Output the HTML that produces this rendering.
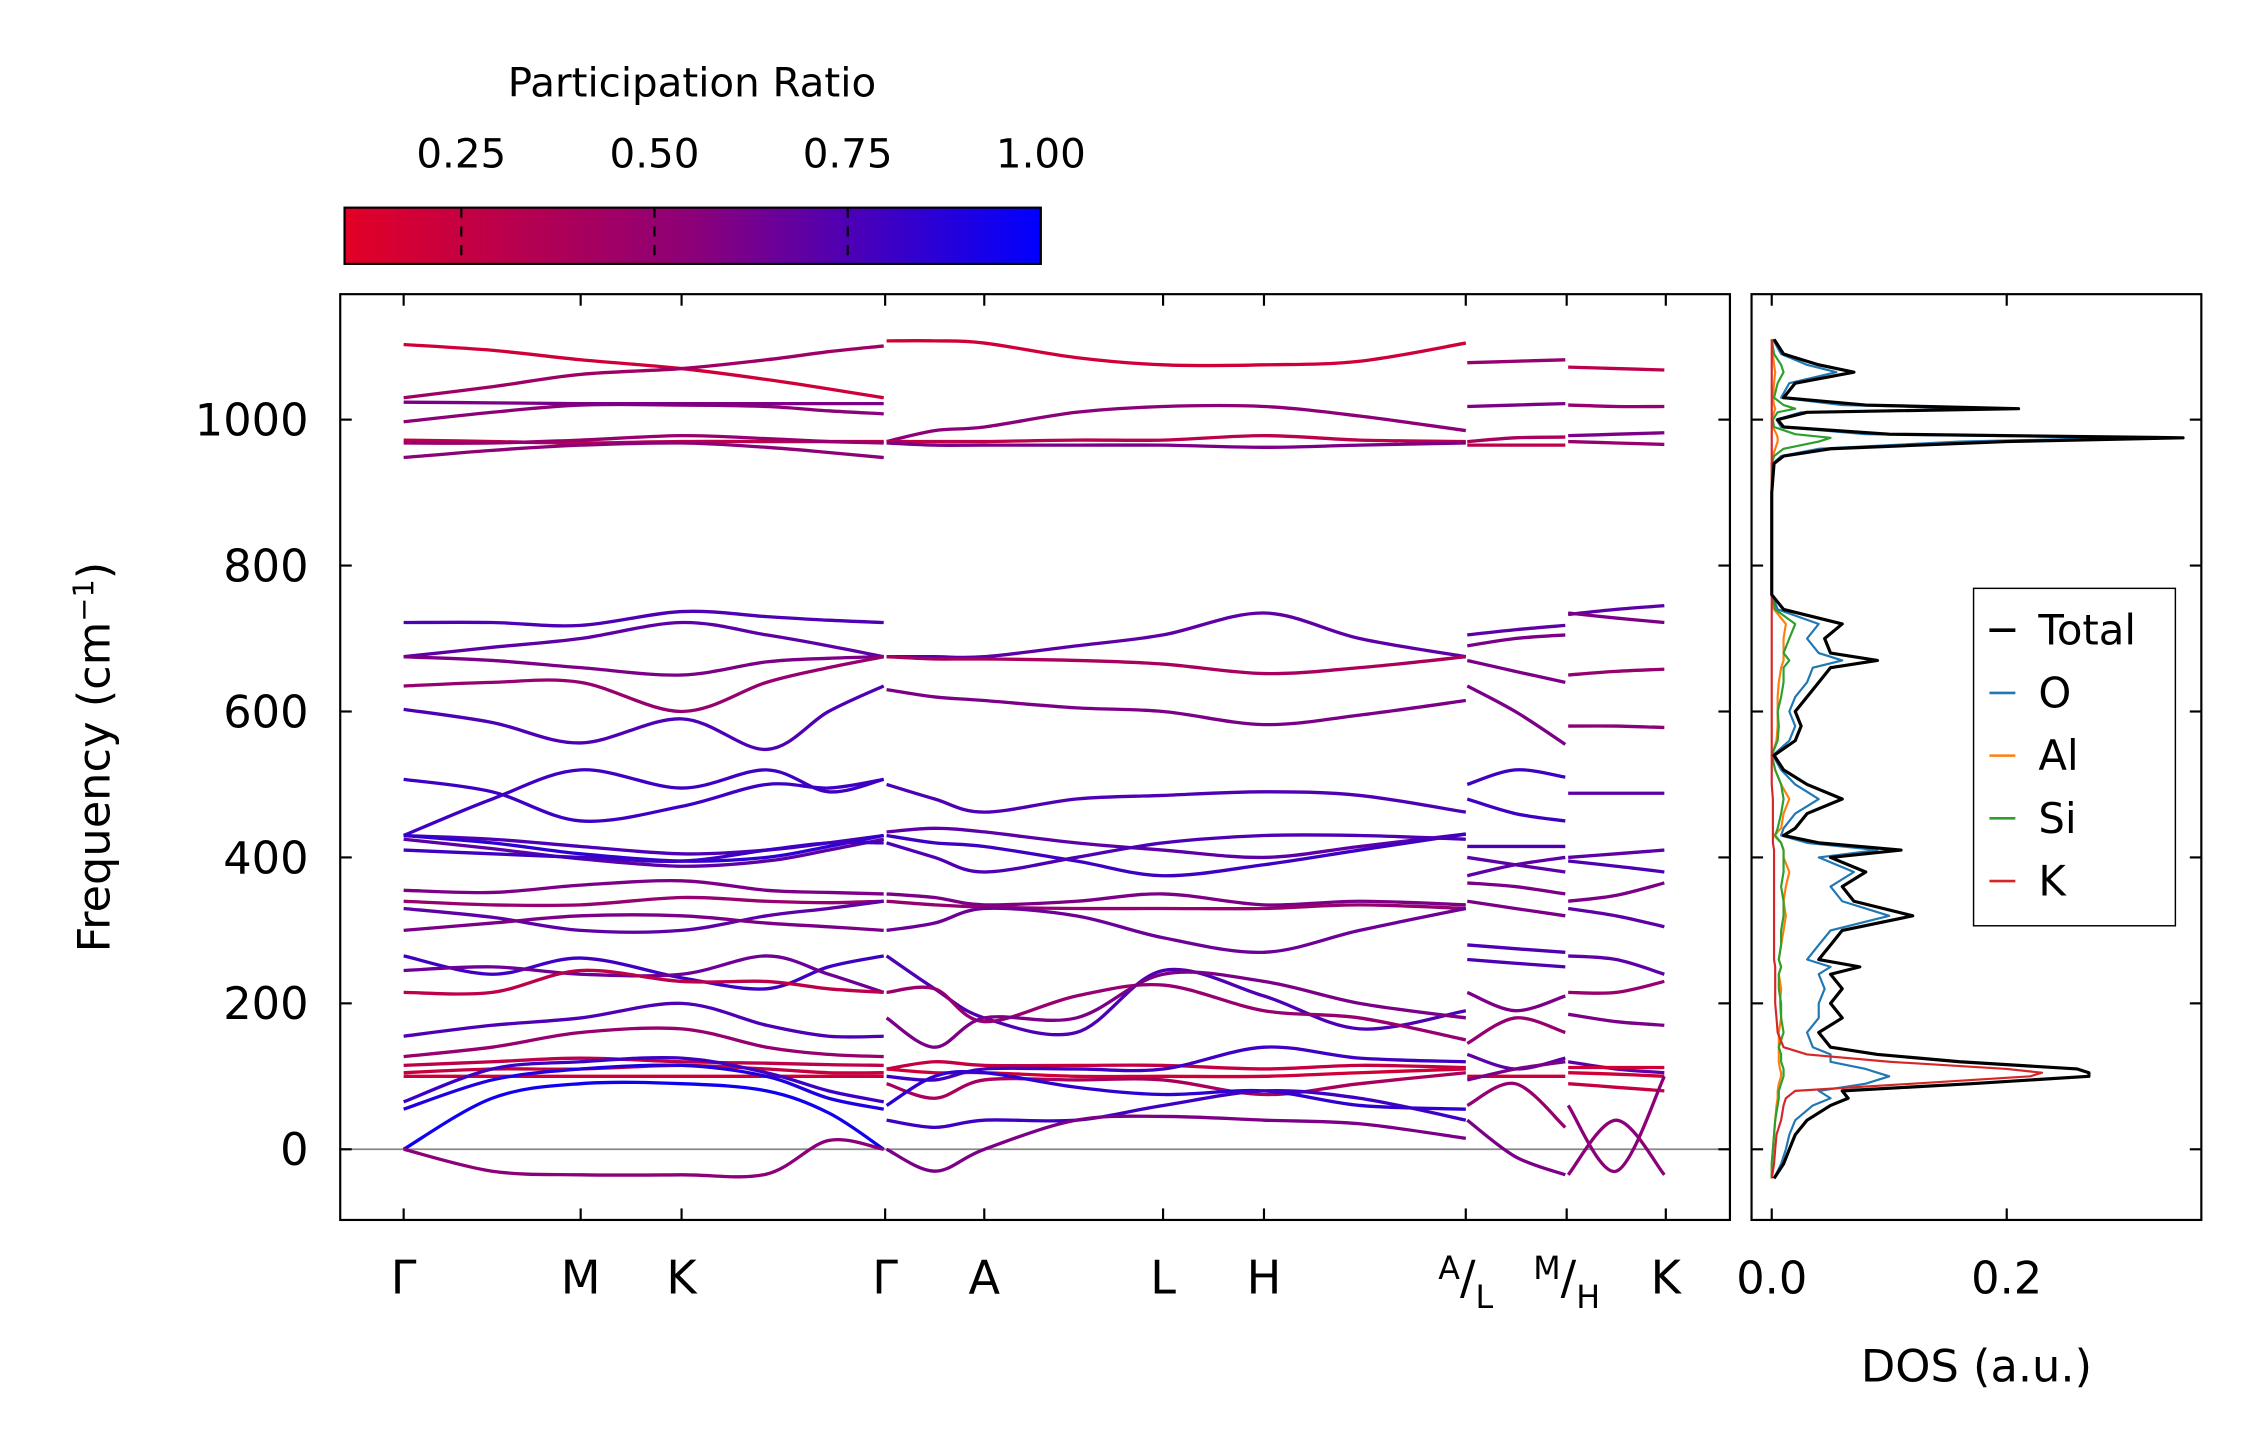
<!DOCTYPE html>
<html><head><meta charset="utf-8"><style>
html,body{margin:0;padding:0;background:#fff}
svg{display:block}
text{font-family:"DejaVu Sans","Liberation Sans",sans-serif;fill:#000}
</style></head><body>
<svg id="chart" width="2259" height="1455" viewBox="0 0 1567 1009" preserveAspectRatio="none" xmlns="http://www.w3.org/2000/svg">
<defs>
<linearGradient id="cmap" x1="0" x2="1" y1="0" y2="0">
<stop offset="0" stop-color="rgb(226,0,38)"/>
<stop offset="0.5" stop-color="rgb(140,0,120)"/>
<stop offset="1" stop-color="rgb(0,0,255)"/>
</linearGradient>
<clipPath id="mainclip"><rect x="236" y="204" width="964" height="642"/></clipPath>
<clipPath id="dosclip"><rect x="1215" y="204" width="312" height="642"/></clipPath>
</defs>
<g id="colorbar">
<text x="480" y="67" font-size="28" text-anchor="middle">Participation Ratio</text>
<rect x="239" y="144" width="483" height="39" fill="url(#cmap)" stroke="#000" stroke-width="1.5"/>
</g>
<g id="main">
<g id="bands" clip-path="url(#mainclip)"></g>
<rect x="236" y="204" width="964" height="642" fill="none" stroke="#000" stroke-width="1.5"/>
<g id="mainTicks"></g>
<text transform="translate(76,525) rotate(-90)" font-size="31" text-anchor="middle">Frequency (cm<tspan dy="-11" font-size="20">−1</tspan><tspan dy="11">)</tspan></text>
</g>
<g id="dos">
<g id="dosCurves" clip-path="url(#dosclip)"></g>
<rect x="1215" y="204" width="312" height="642" fill="none" stroke="#000" stroke-width="1.5"/>
<g id="dosTicks"></g>
<text x="1371" y="958" font-size="31" text-anchor="middle">DOS (a.u.)</text>
<g id="legend">
<rect x="1369" y="408" width="140" height="234" fill="#fff" stroke="#000" stroke-width="1"/>
</g>
</g>
</svg>
<script>
// ---- DATA ----
const kLabels = ["Γ","M","K","Γ","A","L","H","A/L","M/H","K"];
const kTicks = [0,1.0,1.57,2.72,3.28,4.29,4.86,6.0,6.57,7.13];
const yTicks = [0,200,400,600,800,1000];
const cbTicks = [0.25,0.50,0.75,1.00];

const seg1K = [0,0.5,1.0,1.57,2.05,2.4,2.72];
const seg1Bands = [
[1103,1095,1082,1070,1055,1042,1030],[1030,1045,1062,1070,1082,1093,1101],
[997,1010,1020,1020,1018,1012,1008],[1024,1023,1022,1022,1022,1022,1022],
[972,970,968,970,970,970,970],[968,968,972,978,974,970,968],
[948,958,965,968,962,955,948],[722,722,718,737,730,725,722],
[675,688,700,722,705,690,675],[675,670,660,650,668,673,675],
[635,640,640,600,640,660,675],[603,585,557,590,548,600,635],
[507,490,450,470,500,495,507],[430,480,520,495,520,490,507],
[430,425,415,405,410,420,430],[430,420,405,395,400,415,430],
[425,412,398,388,395,410,425],[410,405,400,395,410,420,420],
[355,352,362,368,355,352,350],[340,335,335,345,340,338,340],
[330,318,300,300,320,330,340],[300,310,320,320,310,305,300],
[265,240,262,235,220,250,265],[245,250,240,240,265,240,215],
[215,215,245,230,230,220,215],[155,170,180,200,170,155,155],
[127,140,160,165,140,130,127],[115,120,125,120,118,116,115],
[105,110,110,115,110,105,105],[100,100,100,100,100,100,100],
[65,110,120,125,105,80,65],[55,95,110,115,100,70,55],
[0,70,90,90,80,50,0],[0,-30,-35,-35,-34,12,0]];
const seg1PR = [.2,.45,.55,.6,.3,.5,.55,.75,.7,.6,.5,.75,.8,.8,.75,.85,.7,.8,.6,.5,.7,.6,.8,.65,.3,.75,.5,.3,.25,.2,.8,.9,.95,.55];

const seg2K = [2.72,3.0,3.28,3.8,4.29,4.86,5.4,6.0];
const seg2Bands = [
[1108,1108,1105,1085,1075,1075,1080,1105],[970,985,990,1010,1018,1018,1005,985],
[970,970,970,972,972,978,972,970],[968,965,965,965,965,962,965,968],
[675,675,675,690,705,735,700,675],[675,672,672,670,665,652,660,675],
[630,620,615,605,600,582,595,615],[500,480,462,480,485,490,485,462],
[435,440,435,420,410,400,415,432],[430,420,415,395,375,390,410,432],
[420,400,380,400,420,430,430,425],[350,345,335,340,350,335,340,335],
[340,335,332,330,330,330,335,330],[300,310,330,320,290,270,300,330],
[265,220,180,160,245,210,165,190],[215,220,175,210,225,190,180,150],
[180,140,180,180,240,230,200,180],[110,120,115,115,115,110,115,112],
[110,105,105,100,100,100,105,110],[100,95,110,110,110,140,125,120],
[90,70,95,95,95,75,90,105],[60,100,105,85,75,80,60,55],
[40,30,40,40,60,80,70,40],[0,-30,0,40,45,40,35,15]];
const seg2PR = [.2,.55,.3,.6,.7,.4,.6,.75,.7,.8,.75,.6,.5,.65,.75,.5,.6,.25,.2,.8,.4,.85,.8,.6];

const seg3K = [6.0,6.28,6.57];
const seg3Bands = [
[1078,1080,1082],[1018,1020,1022],[970,975,976],[965,965,965],[705,712,718],
[690,700,705],[670,655,640],[635,600,555],[500,520,510],[480,460,450],
[415,415,415],[400,390,380],[375,390,400],[365,360,350],[340,330,320],
[280,275,270],[260,255,250],[215,190,210],[145,180,160],[130,110,125],
[100,100,100],[95,110,120],[60,90,30],[40,-10,-35]];
const seg3PR = [.5,.6,.4,.3,.7,.6,.6,.6,.8,.8,.75,.7,.7,.6,.6,.75,.75,.6,.5,.7,.2,.6,.5,.6];

const seg4K = [6.57,6.85,7.13];
const seg4Bands = [
[1072,1070,1068],[1020,1018,1018],[978,980,982],[970,968,966],[733,740,745],
[735,728,722],[650,655,658],[580,580,578],[488,488,488],[400,405,410],
[395,388,380],[340,348,365],[330,320,305],[265,260,240],[215,215,230],
[185,175,170],[120,110,105],[112,112,112],[105,103,100],[90,85,80],
[60,-30,100],[-35,40,-35]];
const seg4PR = [.3,.5,.6,.5,.7,.6,.5,.55,.7,.7,.75,.6,.7,.7,.5,.6,.7,.2,.2,.25,.55,.55];

const dosFreq = [-40,-20,0,20,40,60,70,80,90,100,105,110,120,130,140,160,180,200,220,240,250,260,280,300,320,340,360,380,400,410,420,430,440,460,480,500,520,540,560,580,600,620,640,660,670,680,700,720,740,760,800,900,940,950,960,970,975,980,990,1000,1010,1015,1020,1030,1050,1065,1075,1090,1110];
const dosTotal = [.002,.01,.015,.02,.03,.05,.065,.06,.17,.27,.27,.26,.16,.09,.05,.04,.06,.05,.06,.05,.075,.04,.05,.06,.12,.07,.06,.08,.05,.11,.04,.01,.02,.03,.06,.03,.01,.002,.02,.025,.02,.03,.04,.05,.09,.05,.045,.06,.01,0,0,0,.002,.01,.05,.2,.35,.1,.01,.005,.03,.21,.08,.01,.02,.07,.04,.01,.002];
const dosO = [.002,.008,.012,.015,.02,.035,.05,.04,.08,.1,.09,.08,.05,.05,.035,.03,.04,.04,.045,.04,.05,.03,.04,.05,.1,.06,.05,.07,.04,.09,.03,.008,.01,.02,.04,.02,.008,.001,.015,.02,.015,.02,.03,.035,.06,.04,.03,.04,.005,0,0,0,.001,.008,.04,.16,.3,.08,.008,.004,.025,.18,.06,.008,.015,.055,.03,.008,.001];
const dosAl = [0,0,.001,.002,.003,.004,.005,.005,.006,.008,.008,.007,.006,.006,.006,.006,.008,.007,.008,.006,.008,.006,.008,.01,.012,.01,.012,.015,.01,.01,.008,.002,.008,.01,.015,.008,.003,0,.004,.005,.005,.005,.006,.008,.01,.01,.01,.012,.002,0,0,0,0,.001,.003,.005,.005,.004,.001,0,.002,.003,.002,.001,.002,.003,.002,.001,0];
const dosSi = [0,0,.001,.002,.003,.005,.006,.006,.008,.01,.01,.01,.008,.008,.006,.01,.008,.008,.006,.006,.008,.006,.008,.008,.01,.01,.008,.01,.01,.01,.008,.003,.005,.008,.01,.008,.003,0,.005,.006,.005,.008,.01,.01,.015,.01,.015,.02,.003,0,0,0,0,.002,.01,.04,.05,.02,.002,.001,.005,.02,.01,.002,.005,.01,.008,.002,0];
const dosK = [0,.002,.003,.004,.008,.01,.012,.02,.12,.22,.23,.2,.1,.03,.01,.005,.004,.003,.003,.003,.003,.002,.002,.002,.002,.002,.002,.002,.002,.002,.001,.001,.001,.001,.001,0,0,0,0,0,0,0,0,0,0,0,0,0,0,0,0,0,0,0,0,0,0,0,0,0,0,0,0,0,0,0,0,0,0];
const dosSeries = ["Total","O","Al","Si","K"];
const dosColors = ["#000000","#1f77b4","#ff7f0e","#2ca02c","#d62728"];
const dosWidths = [2.2,1.5,1.5,1.5,1.5];

// ---- SCALES ----
const NS="http://www.w3.org/2000/svg";
const xK = k => 280 + k*(614-280)/2.72;
const yF = f => 797 - f*0.506;
const xDos = v => 1229 + v*815;
const xCb = v => 320 + (v-0.25)*536;
function cmap(p){
  let t=Math.max(0,Math.min(1,(p-0.1)/0.9));
  let a,b,u;
  if(t<0.5){a=[226,0,38];b=[140,0,120];u=t/0.5;}else{a=[140,0,120];b=[0,0,255];u=(t-0.5)/0.5;}
  return `rgb(${Math.round(a[0]+(b[0]-a[0])*u)},${Math.round(a[1]+(b[1]-a[1])*u)},${Math.round(a[2]+(b[2]-a[2])*u)})`;
}
function smoothPath(pts){
  let d=`M${pts[0][0].toFixed(1)},${pts[0][1].toFixed(1)}`;
  for(let i=0;i<pts.length-1;i++){
    const p0=pts[Math.max(0,i-1)],p1=pts[i],p2=pts[i+1],p3=pts[Math.min(pts.length-1,i+2)];
    const c1=[p1[0]+(p2[0]-p0[0])/6,p1[1]+(p2[1]-p0[1])/6];
    const c2=[p2[0]-(p3[0]-p1[0])/6,p2[1]-(p3[1]-p1[1])/6];
    d+=` C${c1[0].toFixed(1)},${c1[1].toFixed(1)} ${c2[0].toFixed(1)},${c2[1].toFixed(1)} ${p2[0].toFixed(1)},${p2[1].toFixed(1)}`;
  }
  return d;
}
function mk(tag,attrs,parent){const e=document.createElementNS(NS,tag);for(const k in attrs)e.setAttribute(k,attrs[k]);parent.appendChild(e);return e;}

const bandsG=document.getElementById('bands');
const zl=mk('line',{x1:236,x2:1200,y1:yF(0),y2:yF(0),stroke:'#888','stroke-width':1.2},bandsG);



const segs=[[seg1K,seg1Bands,seg1PR],[seg2K,seg2Bands,seg2PR],[seg3K,seg3Bands,seg3PR],[seg4K,seg4Bands,seg4PR]];
const segOffsets=[[0,-1],[1,0],[1,-1],[1,-1]];
segs.forEach((s,si)=>{
  const [ks,bands,prs]=s;
  bands.forEach((b,bi)=>{
    const pts=b.map((f,i)=>[xK(ks[i])+(i===0?segOffsets[si][0]:0)+(i===ks.length-1?segOffsets[si][1]:0),yF(f)]);
    const p=mk('path',{d:smoothPath(pts),fill:'none',stroke:cmap(prs[bi]),'stroke-width':2.3},bandsG);
    
    
  });
});

const mt=document.getElementById('mainTicks');
yTicks.forEach(v=>{
  const y=yF(v);
  mk('line',{x1:236,x2:244,y1:y,y2:y,stroke:'#000','stroke-width':1.5},mt);
  mk('line',{x1:1192,x2:1200,y1:y,y2:y,stroke:'#000','stroke-width':1.5},mt);
  mk('line',{x1:1215,x2:1223,y1:y,y2:y,stroke:'#000','stroke-width':1.5},mt);
  mk('line',{x1:1519,x2:1527,y1:y,y2:y,stroke:'#000','stroke-width':1.5},mt);
  const t=mk('text',{x:214,y:y+11,'font-size':31,'text-anchor':'end'},mt);
  t.textContent=v;
  
  
});
kTicks.forEach((k,i)=>{
  const x=xK(k);
  mk('line',{x1:x,x2:x,y1:838,y2:846,stroke:'#000','stroke-width':1.5},mt);
  mk('line',{x1:x,x2:x,y1:204,y2:212,stroke:'#000','stroke-width':1.5},mt);
  const lab=kLabels[i];
  const t=mk('text',{x:x,y:897,'font-size':32,'text-anchor':'middle'},mt);
  
  
  if(lab.includes('/')){
    const [a,b]=lab.split('/');
    t.innerHTML=`<tspan font-size="22" dy="-10">${a}</tspan><tspan dy="10">/</tspan><tspan font-size="22" dy="10">${b}</tspan>`;
  } else t.textContent=lab;
});

const cb=document.getElementById('colorbar');
cbTicks.forEach(v=>{
  const x=xCb(v);
  if(v<1){mk('line',{x1:x,x2:x,y1:144,y2:183,stroke:'#000','stroke-width':1.5,'stroke-dasharray':'7,6'},cb);}
  const t=mk('text',{x:x,y:116,'font-size':28,'text-anchor':'middle'},cb);
  t.textContent=v.toFixed(2);
  
  
});

const dg=document.getElementById('dosCurves');
const dosData=[dosTotal,dosO,dosAl,dosSi,dosK];
[1,2,3,4,0].forEach(si=>{
  const d=dosData[si];
  const pts=d.map((v,i)=>`${xDos(v).toFixed(1)},${yF(dosFreq[i]).toFixed(1)}`).join(' ');
  const p=mk('polyline',{points:pts,fill:'none',stroke:dosColors[si],'stroke-width':dosWidths[si],'stroke-linejoin':'round'},dg);
  
  
});
const dt=document.getElementById('dosTicks');
[0.0,0.2].forEach(v=>{
  const x=xDos(v);
  mk('line',{x1:x,x2:x,y1:838,y2:846,stroke:'#000','stroke-width':1.5},dt);
  mk('line',{x1:x,x2:x,y1:204,y2:212,stroke:'#000','stroke-width':1.5},dt);
  const t=mk('text',{x:x,y:897,'font-size':31,'text-anchor':'middle'},dt);
  t.textContent=v.toFixed(1);
  
  
});
const lg=document.getElementById('legend');
dosSeries.forEach((s,i)=>{
  const y=437+i*43.5;
  mk('line',{x1:1380,x2:1398,y1:y,y2:y,stroke:dosColors[i],'stroke-width':i===0?2.5:1.8},lg);
  const t=mk('text',{x:1414,y:y+10,'font-size':29},lg);
  t.textContent=s;
  
  
});
</script>
</body></html>
